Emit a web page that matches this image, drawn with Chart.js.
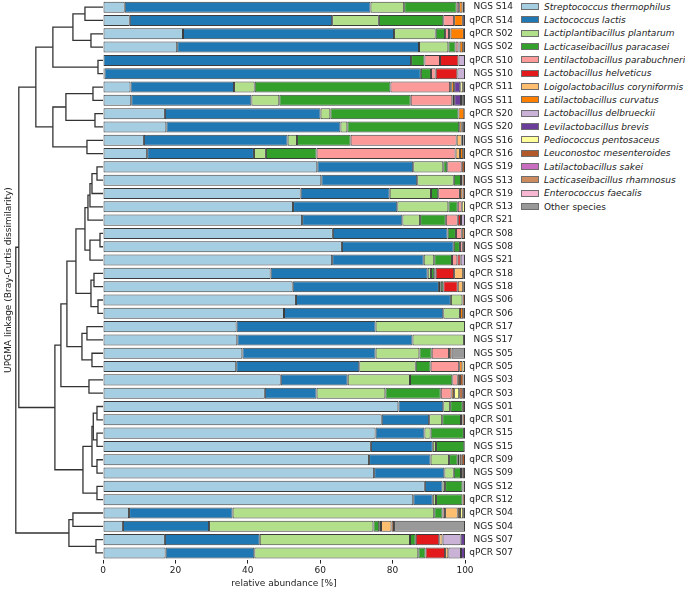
<!DOCTYPE html>
<html>
<head>
<meta charset="utf-8">
<script src="https://cdn.jsdelivr.net/npm/chart.js@4.4.1/dist/chart.umd.min.js"></script>
<style>
  body { margin: 0; background: #fff; }
  #wrap { position: relative; width: 685px; height: 591px; font-family: "DejaVu Sans", sans-serif; }
  #barChart, #treeChart { position: absolute; left: 0; top: 0; }
  #legend { position: absolute; left: 521px; top: 0; font-size: 9px; color: #222; }
  .legend-row { display: flex; align-items: center; height: 13.33px; }
  .legend-box { width: 16px; height: 5px; border: 1px solid #6e6e6e; margin-right: 5px; }
  .legend-name { white-space: nowrap; }
  .legend-name.italic { font-style: italic; }
</style>
</head>
<body>
<div id="wrap">
  <canvas id="barChart" width="516" height="591"></canvas>
  <canvas id="treeChart" width="104" height="591"></canvas>
  <div id="legend"></div>
</div>
<script>
const samples = [
  "NGS S14", "qPCR S14", "qPCR S02", "NGS S02", "qPCR S10", "NGS S10", "qPCR S11", "NGS S11",
  "qPCR S20", "NGS S20", "NGS S16", "qPCR S16", "NGS S19", "NGS S13", "qPCR S19", "qPCR S13",
  "qPCR S21", "qPCR S08", "NGS S08", "NGS S21", "qPCR S18", "NGS S18", "NGS S06", "qPCR S06",
  "qPCR S17", "NGS S17", "NGS S05", "qPCR S05", "NGS S03", "qPCR S03", "NGS S01", "qPCR S01",
  "qPCR S15", "NGS S15", "qPCR S09", "NGS S09", "NGS S12", "qPCR S12", "qPCR S04", "NGS S04",
  "NGS S07", "qPCR S07",
];

const species = [
  "Streptococcus thermophilus", "Lactococcus lactis", "Lactiplantibacillus plantarum",
  "Lacticaseibacillus paracasei", "Lentilactobacillus parabuchneri", "Lactobacillus helveticus",
  "Loigolactobacillus coryniformis", "Latilactobacillus curvatus", "Lactobacillus delbrueckii",
  "Levilactobacillus brevis", "Pediococcus pentosaceus", "Leuconostoc mesenteroides",
  "Latilactobacillus sakei", "Lacticaseibacillus rhamnosus", "Enterococcus faecalis", "Other species",
];

const speciesColors = [
  "#a6cee3", "#1f78b4", "#b2df8a", "#33a02c", "#fb9a99", "#e31a1c", "#fdbf6f", "#ff7f00",
  "#cab2d6", "#6a3d9a", "#ffff99", "#b15928", "#c86dbf", "#cd8c5f", "#f7b6d2", "#999999",
];

// relative abundance [%] per sample, same order as samples
const thermophilus = [6.0, 7.4, 22.1, 20.5, 0, 0.4, 7.6, 7.8, 17.1, 17.5, 11.3, 12.2, 59.2, 60.3, 54.6, 52.5, 55.0, 63.5, 66.0, 63.3, 46.3, 52.4, 53.3, 50.0, 36.9, 37.1, 38.5, 36.8, 49.1, 44.7, 81.6, 77.0, 75.3, 74.0, 73.5, 74.9, 88.9, 85.7, 7.2, 5.5, 17.1, 17.3];
const lactis = [67.9, 55.9, 58.3, 66.8, 85.1, 87.4, 28.6, 33.2, 43.0, 48.1, 39.7, 29.5, 26.5, 26.5, 24.6, 28.8, 27.7, 31.7, 30.9, 25.3, 43.4, 40.4, 42.8, 44.0, 38.4, 48.4, 36.8, 34.0, 18.5, 14.3, 12.4, 13.1, 13.5, 17.1, 17.0, 19.4, 4.9, 5.4, 28.6, 23.8, 26.2, 24.5];
const plantarum = [9.3, 12.9, 11.5, 8.1, 0, 0, 5.7, 7.7, 2.7, 1.9, 2.6, 3.3, 8.3, 10.1, 11.4, 14.1, 4.9, 0, 0, 2.9, 0.9, 0.5, 3.2, 4.6, 24.7, 14.2, 12.1, 15.6, 17.2, 19.0, 1.9, 3.6, 1.7, 0.9, 5.1, 2.6, 0.7, 0.9, 55.7, 45.4, 41.5, 45.3];
const paracasei = [14.5, 17.8, 2.6, 2.0, 3.7, 2.8, 37.5, 36.3, 35.4, 30.9, 14.8, 14.0, 1.1, 2.0, 2.0, 2.6, 7.1, 2.3, 1.7, 4.9, 0.9, 0.7, 0, 0, 0, 0, 3.4, 4.1, 11.7, 15.3, 3.5, 5.2, 9.2, 7.8, 2.4, 2.0, 4.8, 7.3, 2.3, 1.6, 1.6, 2.0];
const parabuchneri = [0.7, 3.0, 1.1, 0.8, 4.3, 1.3, 16.5, 11.5, 0, 0, 29.3, 38.4, 4.0, 0.4, 6.0, 1.1, 3.3, 1.6, 0.8, 1.5, 0.4, 0, 0, 0, 0, 0, 4.8, 7.9, 1.5, 3.0, 0, 0, 0, 0, 0, 0, 0, 0, 0.7, 0.5, 0, 0];
const helveticus = [0, 0, 0, 0, 5.1, 6.0, 0.3, 0.5, 0, 0, 0, 0, 0, 0, 0, 0, 0.9, 0, 0, 0.9, 5.1, 4.0, 0, 0, 0, 0, 0, 0, 0, 0, 0, 0, 0, 0, 0, 0, 0, 0, 0, 0, 6.5, 5.4];
const coryniformis = [0, 0, 0.4, 0.3, 0, 0, 0, 0, 0, 0, 1.4, 1.2, 0, 0, 0, 0, 0, 0, 0, 0, 2.5, 1.5, 0, 0, 0, 0, 0, 0, 0, 0, 0, 0, 0, 0, 0.5, 0, 0, 0, 3.5, 2.9, 0.9, 0.9];
const curvatus = [0.9, 2.4, 3.7, 1.0, 0, 0, 0.8, 0, 1.6, 0.7, 0.5, 0.9, 0, 0, 0.7, 0, 0, 0, 0, 0, 0, 0, 0, 0.9, 0, 0, 0, 0.9, 0.6, 0.7, 0, 0.4, 0, 0, 0.6, 0, 0, 0, 0.6, 0, 0, 0];
const delbrueckii = [0, 0, 0, 0, 1.8, 2.1, 0, 0, 0, 0, 0, 0, 0, 0, 0, 0, 1.1, 0, 0, 1.2, 0, 0, 0, 0, 0, 0, 0, 0, 0, 0, 0, 0, 0, 0, 0, 0, 0, 0, 0, 0, 5.0, 3.5];
const brevis = [0, 0, 0, 0, 0, 0, 1.7, 1.9, 0, 0, 0, 0, 0, 0, 0, 0, 0, 0, 0, 0, 0, 0, 0, 0, 0, 0, 0, 0, 0, 0, 0, 0, 0, 0, 0, 0, 0, 0, 0, 0, 1.2, 1.1];
const pentosaceus = [0, 0, 0, 0, 0, 0, 0.8, 0, 0, 0, 0, 0, 0, 0, 0, 0.9, 0, 0, 0, 0, 0, 0, 0, 0, 0, 0, 0, 0.7, 0, 1.4, 0, 0, 0, 0, 0, 0.5, 0, 0, 0.9, 0, 0, 0];
const mesenteroides = [0.5, 0, 0.3, 0.5, 0, 0, 0.5, 0.5, 0.2, 0.3, 0.4, 0.5, 0.9, 0.7, 0.7, 0, 0, 0, 0, 0, 0.5, 0.5, 0.7, 0.5, 0, 0, 0.7, 0, 1.0, 1.0, 0.6, 0.7, 0.3, 0, 0.9, 0.6, 0.3, 0.7, 0.5, 0.7, 0, 0];
const sakei = [0, 0.6, 0, 0, 0, 0, 0, 0, 0, 0, 0, 0, 0, 0, 0, 0, 0, 0, 0, 0, 0, 0, 0, 0, 0, 0, 0, 0, 0, 0.6, 0, 0, 0, 0, 0, 0, 0, 0, 0, 0, 0, 0];
const rhamnosus = [0, 0, 0, 0, 0, 0, 0, 0, 0, 0, 0, 0, 0, 0, 0, 0, 0, 0.9, 0.6, 0, 0, 0, 0, 0, 0, 0, 0, 0, 0.4, 0, 0, 0, 0, 0, 0, 0, 0, 0, 0, 0, 0, 0];
const faecalis = [0, 0, 0, 0, 0, 0, 0, 0, 0, 0, 0, 0, 0, 0, 0, 0, 0, 0, 0, 0, 0, 0, 0, 0, 0, 0, 0, 0, 0, 0, 0, 0, 0, 0, 0, 0, 0, 0, 0, 0, 0, 0];
const otherSpecies = [0.2, 0, 0, 0, 0, 0, 0, 0.6, 0, 0.6, 0, 0, 0, 0, 0, 0, 0, 0, 0, 0, 0, 0, 0, 0, 0, 0.3, 3.7, 0, 0, 0, 0, 0, 0, 0.2, 0, 0, 0.4, 0, 0, 19.6, 0, 0];

const abundance = [
  thermophilus, lactis, plantarum, paracasei, parabuchneri, helveticus, coryniformis, curvatus,
  delbrueckii, brevis, pentosaceus, mesenteroides, sakei, rhamnosus, faecalis, otherSpecies,
];

const xTicks = [0, 20, 40, 60, 80, 100];

// UPGMA merges: [child a, child b, height]; leaves are 0..41 in plotted order, new nodes from 42 on
const linkage = [
  [0, 1, 0.18], [2, 3, 0.12], [42, 43, 0.30], [4, 5, 0.05], [44, 45, 0.50],
  [6, 7, 0.10], [8, 9, 0.08], [47, 48, 0.37], [10, 11, 0.16], [49, 50, 0.50],
  [46, 51, 0.67],
  [12, 13, 0.06], [53, 14, 0.11], [54, 15, 0.13], [55, 16, 0.15],
  [17, 18, 0.03], [57, 19, 0.13], [56, 58, 0.18],
  [20, 21, 0.09], [22, 23, 0.05], [60, 61, 0.12], [59, 62, 0.27],
  [24, 25, 0.16], [26, 27, 0.11], [64, 65, 0.21], [63, 66, 0.36],
  [28, 29, 0.14], [67, 68, 0.42],
  [30, 31, 0.06], [32, 33, 0.06], [70, 71, 0.097], [34, 35, 0.06], [72, 73, 0.11],
  [36, 37, 0.06], [74, 75, 0.20], [69, 76, 0.48],
  [52, 77, 0.84],
  [38, 39, 0.30], [40, 41, 0.07], [79, 80, 0.34],
  [78, 81, 0.87],
];
const treeMax = 0.87;

const FONT = "'DejaVu Sans', sans-serif";
const TEXT = "#222";

document.addEventListener("DOMContentLoaded", () => {
  const barChart = renderBarChart();
  renderTree(barChart.chartArea);
  renderLegend();
});

function renderBarChart() {
  const ctx = document.getElementById("barChart");
  return new Chart(ctx, {
    type: "bar",
    data: {
      labels: samples,
      datasets: species.map((name, i) => ({
        label: name,
        data: abundance[i],
        backgroundColor: speciesColors[i],
        borderColor: "#3c3c3c",
        borderWidth: 1,
        borderSkipped: false,
        barPercentage: 0.83,
        categoryPercentage: 1,
      })),
    },
    options: {
      indexAxis: "y",
      responsive: false,
      animation: false,
      events: [],
      layout: { padding: { left: 103, right: 3, top: 0.5, bottom: 1.8 } },
      plugins: { legend: { display: false }, tooltip: { enabled: false } },
      scales: {
        x: {
          stacked: true,
          min: 0,
          max: 100,
          afterBuildTicks: scale => { scale.ticks = xTicks.map(v => ({ value: v })); },
          grid: { display: true, drawOnChartArea: false, drawTicks: true, tickLength: 4, color: TEXT },
          border: { display: false },
          ticks: { color: TEXT, padding: 2, font: { size: 9, family: FONT } },
          title: {
            display: true,
            text: "relative abundance [%]",
            color: TEXT,
            font: { size: 9, family: FONT },
            padding: { top: 0, bottom: 0 },
          },
        },
        y: {
          stacked: true,
          position: "right",
          grid: { display: false, drawTicks: false },
          border: { display: false },
          ticks: {
            color: TEXT,
            padding: 4,
            crossAlign: "far",
            autoSkip: false,
            font: { size: 9, family: FONT },
          },
          afterFit: scale => {
            scale.width = 48;
            scale.paddingTop = 0;
            scale.paddingBottom = 0;
          },
        },
      },
    },
  });
}

function buildTreeLinks() {
  const nodes = samples.map((_, i) => ({ y: i, h: 0 }));
  return linkage.map(([a, b, h]) => {
    const left = nodes[a];
    const right = nodes[b];
    nodes.push({ y: (left.y + right.y) / 2, h });
    return [
      { x: left.h, y: left.y }, { x: h, y: left.y },
      { x: h, y: right.y }, { x: right.h, y: right.y },
    ];
  });
}

function renderTree(area) {
  const ctx = document.getElementById("treeChart");
  const links = buildTreeLinks();
  new Chart(ctx, {
    type: "scatter",
    data: {
      datasets: links.map(points => ({
        data: points,
        showLine: true,
        borderColor: "#333333",
        borderWidth: 1.3,
        pointRadius: 0,
        tension: 0,
        clip: false,
      })),
    },
    options: {
      responsive: false,
      animation: false,
      events: [],
      layout: { padding: { left: 1, right: 1, top: area.top, bottom: 591 - area.bottom } },
      plugins: { legend: { display: false }, tooltip: { enabled: false } },
      scales: {
        x: { type: "linear", reverse: true, min: 0, max: treeMax, display: false },
        y: {
          type: "linear",
          reverse: true,
          min: -0.5,
          max: samples.length - 0.5,
          grid: { display: false, drawTicks: false },
          border: { display: false },
          ticks: { display: false },
          title: {
            display: true,
            text: "UPGMA linkage (Bray-Curtis dissimilarity)",
            color: TEXT,
            font: { size: 9, family: FONT },
            padding: { top: 2, bottom: 2 },
          },
        },
      },
    },
  });
}

function renderLegend() {
  const legend = document.getElementById("legend");
  legend.innerHTML = species.map((name, i) => `
    <div class="legend-row">
      <span class="legend-box" style="background:${speciesColors[i]}"></span>
      <span class="legend-name ${name === "Other species" ? "" : "italic"}">${name}</span>
    </div>
  `).join("");
}
</script>
</body>
</html>
